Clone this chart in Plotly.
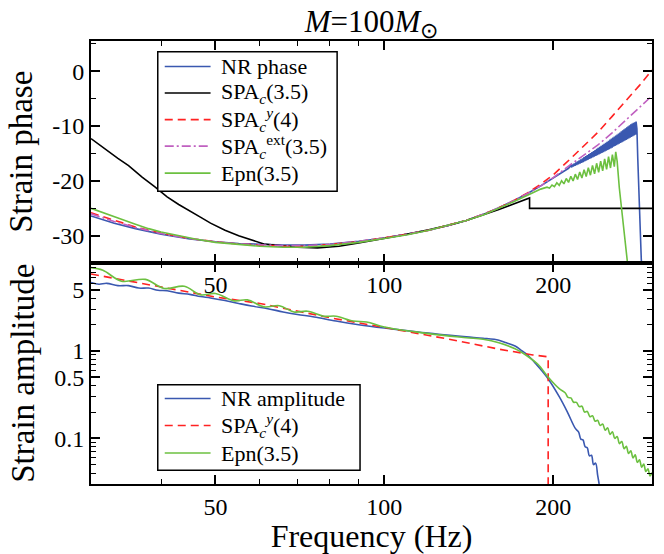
import plotly.graph_objects as go
import math

# ---------------- top panel: strain phase ----------------
nr_phase_f = [30, 33, 36, 40, 45, 50, 55, 60, 66, 72, 80, 90, 100, 110, 120, 130, 140, 150, 160, 170, 180, 190, 200, 207, 213,
              215, 215.75, 216.5, 217.25, 218, 218.75, 219.5, 220.25, 221, 221.75, 222.5, 223.25, 224, 224.75, 225.5,
              226.25, 227, 227.75, 228.5, 229.25, 230, 230.75, 231.5, 232.25, 233, 233.75, 234.5, 235.25, 236, 236.75,
              237.5, 238.25, 239, 239.75, 240.5, 241.25, 242, 242.75, 243.5, 244.25, 245, 245.75, 246.5, 247.25, 248,
              248.75, 249.5, 250.25, 251, 251.75, 252.5, 253.25, 254, 254.75, 255.5, 256.25, 257, 257.75, 258.5, 259.25,
              260, 260.75, 261.5, 262.25, 263, 263.75, 264.5, 265.25, 266, 266.75, 267.5, 268.25, 269, 269.75, 270.5,
              271.25, 272, 272.75, 273.5, 274.25, 275, 275.75, 276.5, 277.25, 278, 278.75, 279.5, 280.25, 281,
              282, 283, 284.2, 285.5, 287.1, 288]
nr_phase_v = [-26.4, -27.7, -28.7, -29.7, -30.6, -31.1, -31.4, -31.6, -31.7, -31.7, -31.5, -31.0, -30.4, -29.7, -29.0, -28.1,
              -27.2, -26.1, -24.9, -23.6, -22.3, -20.9, -19.5, -18.6, -17.7,
              -17.20, -17.53, -17.01, -17.39, -16.82, -17.25, -16.63, -17.12, -16.45, -16.98, -16.26, -16.84, -16.07,
              -16.70, -15.88, -16.56, -15.69, -16.42, -15.50, -16.28, -15.32, -16.15, -15.13, -16.01, -14.94, -15.87,
              -14.75, -15.73, -14.56, -15.59, -14.37, -15.45, -14.18, -15.31, -13.99, -15.18, -13.81, -15.04, -13.62,
              -14.90, -13.43, -14.76, -13.24, -14.62, -13.05, -14.48, -12.86, -14.35, -12.68, -14.21, -12.49, -14.07,
              -12.30, -13.93, -12.11, -13.79, -11.92, -13.65, -11.73, -13.51, -11.55, -13.38, -11.36, -13.24, -11.17,
              -13.10, -10.98, -12.96, -10.79, -12.82, -10.60, -12.68, -10.41, -12.54, -10.23, -12.41, -10.04, -12.27,
              -9.85, -12.13, -9.70, -11.99, -9.55, -11.85, -9.40, -11.71, -9.30, -11.57, -9.20,
              -10.5, -16.0, -22.4, -28.0, -34.3, -36.0]

spac_phase_f = [30, 31, 32, 33.5, 35, 37, 39, 41, 43, 45, 47, 49, 52, 55, 58, 61, 65, 70, 76, 83, 90, 100, 110, 120, 130,
                140, 150, 160, 170, 181.5, 181.5, 300]
spac_phase_v = [-12.3, -13.4, -14.5, -15.9, -17.2, -19.3, -21.1, -22.9, -24.3, -25.4, -26.6, -27.7, -29.0, -30.0, -30.8,
                -31.5, -31.8, -32.1, -32.2, -31.9, -31.3, -30.5, -29.7, -28.9, -28.1, -27.2, -26.2, -25.2, -24.2, -23.1,
                -25.0, -25.0]

spay_phase_f = [30, 33, 36, 40, 45, 50, 55, 60, 66, 72, 80, 90, 100, 110, 120, 130, 140, 150, 160, 170, 180, 190, 200, 215,
                230, 240, 255, 270, 285, 300]
spay_phase_v = [-25.8, -27.2, -28.4, -29.5, -30.5, -31.1, -31.5, -31.7, -31.9, -31.9, -31.6, -31.1, -30.4, -29.7, -29.0,
                -28.1, -27.2, -26.1, -24.9, -23.6, -22.2, -20.6, -18.9, -15.9, -13.1, -11.2, -8.2, -5.4, -2.6, 0.2]

spaext_phase_f = [30, 33, 36, 40, 45, 50, 55, 60, 66, 72, 80, 90, 100, 110, 120, 130, 140, 150, 160, 170, 180, 190, 200,
                  215, 230, 240, 255, 270, 285, 300]
spaext_phase_v = [-26.0, -27.4, -28.5, -29.6, -30.5, -31.1, -31.5, -31.7, -31.8, -31.8, -31.6, -31.0, -30.4, -29.7, -29.0,
                  -28.1, -27.2, -26.1, -24.9, -23.6, -22.3, -20.9, -19.4, -17.0, -14.9, -13.5, -11.2, -8.9, -6.7, -4.5]

epn_phase_f = [30, 32, 34, 36, 38, 40, 43, 46, 50, 55, 60, 66, 72, 80, 90, 100, 110, 120, 130, 140, 150, 160, 170, 180,
               190, 195, 197, 199, 201, 203, 205, 207, 209, 211, 213, 215, 217, 219, 221, 223, 225, 227, 229, 231, 233, 235,
               237, 239, 241, 243, 245, 247, 249, 251, 253, 255, 257, 258.5, 260, 262.3, 265.1, 268, 271, 272]
epn_phase_v = [-25.0, -26.1, -27.0, -27.9, -28.7, -29.3, -30.0, -30.6, -31.2, -31.6, -31.9, -32.1, -32.1, -31.8, -31.2,
               -30.5, -29.8, -29.0, -28.1, -27.2, -26.2, -25.0, -23.8, -22.6, -21.5,
               -21.15, -21.32, -20.75, -21.06, -20.35, -20.80, -19.96, -20.54, -19.56, -20.27, -19.16, -20.01, -18.77,
               -19.75, -18.38, -19.49, -17.98, -19.22, -17.58, -18.96, -17.18, -18.70, -16.79, -18.44, -16.39, -18.18,
               -15.99, -17.91, -15.59, -17.65, -15.20, -17.4, -14.7, -16.4, -21.2, -26.0, -30.7, -34.9, -36.0]

# ---------------- bottom panel: strain amplitude ----------------
nr_amp_f = [30, 31, 32, 33.5, 35, 36.5, 38, 39.5, 41, 43, 45, 47, 49, 52, 55, 58, 62, 66, 70, 75, 82, 90, 100, 115, 125,
            140, 150, 160, 165, 171, 176, 180, 186, 195, 205, 212, 219, 222, 224, 226, 228, 230, 232, 234, 236, 238, 240, 241.5]
nr_amp_v = [6.1, 5.8, 5.95, 5.6, 5.6, 5.25, 5.25, 4.95, 4.9, 4.6, 4.45, 4.2, 4.05, 3.78, 3.5, 3.27, 3.05, 2.8, 2.62,
            2.45, 2.2, 2.0, 1.83, 1.65, 1.55, 1.45, 1.40, 1.33, 1.24, 1.14, 1.0, 0.9, 0.72, 0.50, 0.30, 0.20, 0.13, 0.118,
            0.098, 0.096, 0.08, 0.078, 0.063, 0.064, 0.05, 0.052, 0.038, 0.03]

spay_amp_f = [30, 40, 50, 60, 80, 100, 130, 160, 184, 195.9, 195.9]
spay_amp_v = [7.6, 5.4, 4.15, 3.5, 2.4, 1.86, 1.37, 1.05, 0.90, 0.857, 0.025]

epn_amp_f = [30, 31.5, 34, 37.5, 40.5, 44, 47, 50, 54, 57, 61, 65, 69, 73, 78, 82, 88, 93, 100, 120, 140, 150, 160, 171,
             180, 188, 196, 205, 210, 212.5, 215, 217.5, 220, 222.5, 225, 227.5, 230, 232.5, 235, 237.5, 240, 242.5, 245,
             247.5, 250, 252.5, 255, 257.5, 260, 262.5, 265, 267.5, 270, 272.5, 275, 277.5, 280, 282.5, 285, 287.5, 290,
             292.5, 295, 297.5, 300]
epn_amp_v = [9.0, 8.4, 6.3, 6.6, 5.2, 5.5, 4.4, 4.55, 3.75, 3.85, 3.2, 3.3, 2.8, 2.85, 2.5, 2.5, 2.2, 2.15, 1.88, 1.58,
             1.42, 1.36, 1.24, 1.06, 0.87, 0.70, 0.50, 0.37, 0.333, 0.294, 0.290, 0.259, 0.258, 0.231, 0.233, 0.200,
             0.203, 0.177, 0.181, 0.157, 0.161, 0.140, 0.146, 0.124, 0.132, 0.111, 0.119, 0.100, 0.105, 0.087, 0.092,
             0.076, 0.081, 0.067, 0.072, 0.0596, 0.0646, 0.0531, 0.0569, 0.0468, 0.0507, 0.0417, 0.0447, 0.0372, 0.0407]

# ---------------- tick labels ----------------
x_major = [50, 100, 200]
x_minor = [40, 60, 70, 80, 90, 300]
phase_major = [-30, -20, -10, 0]
phase_minor = [-35, -25, -15, -5, 5]
amp_major = [0.1, 0.5, 1, 5]
amp_major_text = ["0.1", "0.5", "1", "5"]
amp_minor = [0.04, 0.05, 0.06, 0.07, 0.08, 0.09, 0.2, 0.3, 0.4, 0.6, 0.7, 0.8, 0.9, 2, 3, 4, 6, 7, 8, 9, 10]

BLUE = "#3a58b0"
BLACK = "#000000"
RED = "#ff2222"
MAG = "#c060c0"
GREEN = "#6cc040"
FONT = "Liberation Serif"
DASH_RED = "8px,5px"
DASH_MAG = "9px,3px,2px,3px"

# plot area in pixels (for placing the hand-drawn legend boxes)
PX_L, PX_R, PX_T, PX_B = 91, 654, 41, 492


def px_x(p):
    return (p - PX_L) / (PX_R - PX_L)


def px_y(p):
    return 1 - (p - PX_T) / (PX_B - PX_T)


fig = go.Figure()


def add(x, y, name, color, dash, xa, ya, shape="linear", width=1.6):
    fig.add_trace(go.Scatter(x=x, y=y, mode="lines", name=name, xaxis=xa, yaxis=ya, showlegend=False,
                             line=dict(color=color, width=width, dash=dash, shape=shape)))


N_NR = "NR phase"
N_SPAC = "SPA<sub><i>c</i></sub>(3.5)"
N_SPAY = "SPA<sub><i>c</i></sub><sup><i>y</i></sup>(4)"
N_EXT = "SPA<sub><i>c</i></sub><sup>ext</sup>(3.5)"
N_EPN = "Epn(3.5)"
N_NRA = "NR amplitude"

add(nr_phase_f, nr_phase_v, N_NR, BLUE, "solid", "x", "y")
add(spac_phase_f, spac_phase_v, N_SPAC, BLACK, "solid", "x", "y")
add(spay_phase_f, spay_phase_v, N_SPAY, RED, DASH_RED, "x", "y")
add(spaext_phase_f, spaext_phase_v, N_EXT, MAG, DASH_MAG, "x", "y")
add(epn_phase_f, epn_phase_v, N_EPN, GREEN, "solid", "x", "y")

add(nr_amp_f, nr_amp_v, N_NRA, BLUE, "solid", "x2", "y2", shape="spline")
add(spay_amp_f, spay_amp_v, N_SPAY, RED, DASH_RED, "x2", "y2")
add(epn_amp_f, epn_amp_v, N_EPN, GREEN, "solid", "x2", "y2", shape="spline")

# ---------------- legends (drawn as boxes with line samples and text) ----------------
shapes = []
annotations = []


def legend_box(box, rows):
    x0, y0, x1, y1 = box
    shapes.append(dict(type="rect", xref="paper", yref="paper", x0=px_x(x0), x1=px_x(x1), y0=px_y(y1), y1=px_y(y0),
                       line=dict(color="black", width=1.5), fillcolor="white", layer="above"))
    for label, color, dash, py in rows:
        shapes.append(dict(type="line", xref="paper", yref="paper", x0=px_x(x0 + 7), x1=px_x(x0 + 53),
                           y0=px_y(py), y1=px_y(py), line=dict(color=color, width=1.6, dash=dash), layer="above"))
        annotations.append(dict(text=label, xref="paper", yref="paper", x=px_x(x0 + 61), y=px_y(py),
                                xanchor="left", yanchor="middle", showarrow=False,
                                font=dict(family=FONT, size=22, color="black")))


legend_box((158, 52, 338, 194), [(N_NR, BLUE, "solid", 67), (N_SPAC, BLACK, "solid", 94),
                                 (N_SPAY, RED, DASH_RED, 121), (N_EXT, MAG, DASH_MAG, 148),
                                 (N_EPN, GREEN, "solid", 175.5)])
legend_box((158, 391, 361, 478), [(N_NRA, BLUE, "solid", 405), (N_SPAY, RED, DASH_RED, 432.5),
                                  (N_EPN, GREEN, "solid", 460.5)])

xr = [math.log10(30), math.log10(300)]
tickfont = dict(family=FONT, size=24, color="black")
common_x = dict(type="log", range=xr, tickmode="array", tickvals=x_major, ticktext=[str(v) for v in x_major],
                ticks="inside", ticklen=9, tickwidth=1.5, tickcolor="black", showline=True, linecolor="black",
                linewidth=2, mirror="ticks", showgrid=False, zeroline=False, tickfont=tickfont,
                minor=dict(tickmode="array", tickvals=x_minor, ticks="inside", ticklen=5, tickwidth=1.2,
                           tickcolor="black", showgrid=False))

fig.update_layout(
    width=664, height=554,
    margin=dict(l=PX_L, r=664 - PX_R, t=PX_T, b=554 - PX_B),
    paper_bgcolor="white", plot_bgcolor="white",
    font=dict(family=FONT, color="black"),
    showlegend=False,
    title=dict(text="<i>M</i>=100<i>M</i><sub>⊙</sub>", x=0.5, xref="paper", y=0.962, yref="container",
               yanchor="middle", xanchor="center", font=dict(family=FONT, size=31)),
    xaxis=dict(common_x, anchor="y", showticklabels=True),
    xaxis2=dict(common_x, anchor="y2", title=dict(text="Frequency (Hz)", font=dict(family=FONT, size=32), standoff=2)),
    yaxis=dict(domain=[0.5, 1], range=[-34.87, 5.49], tickmode="array", tickvals=phase_major,
               ticktext=[str(v) for v in phase_major], ticks="inside", ticklen=9, tickwidth=1.5, tickcolor="black",
               showline=True, linecolor="black", linewidth=2, mirror="ticks", showgrid=False, zeroline=False,
               tickfont=tickfont, title=dict(text="Strain phase", font=dict(family=FONT, size=33), standoff=10),
               minor=dict(tickmode="array", tickvals=phase_minor, ticks="inside", ticklen=5, tickwidth=1.2,
                          tickcolor="black")),
    yaxis2=dict(domain=[0, 0.5], type="log", range=[math.log10(0.03), 1.013], tickmode="array", tickvals=amp_major,
                ticktext=amp_major_text, ticks="inside", ticklen=9, tickwidth=1.5, tickcolor="black",
                showline=True, linecolor="black", linewidth=2, mirror="ticks", showgrid=False, zeroline=False,
                tickfont=tickfont, title=dict(text="Strain amplitude", font=dict(family=FONT, size=33), standoff=10),
                minor=dict(tickmode="array", tickvals=amp_minor, ticks="inside", ticklen=5, tickwidth=1.2,
                           tickcolor="black")),
    shapes=shapes,
    annotations=annotations,
)

fig.write_html("out.html")
